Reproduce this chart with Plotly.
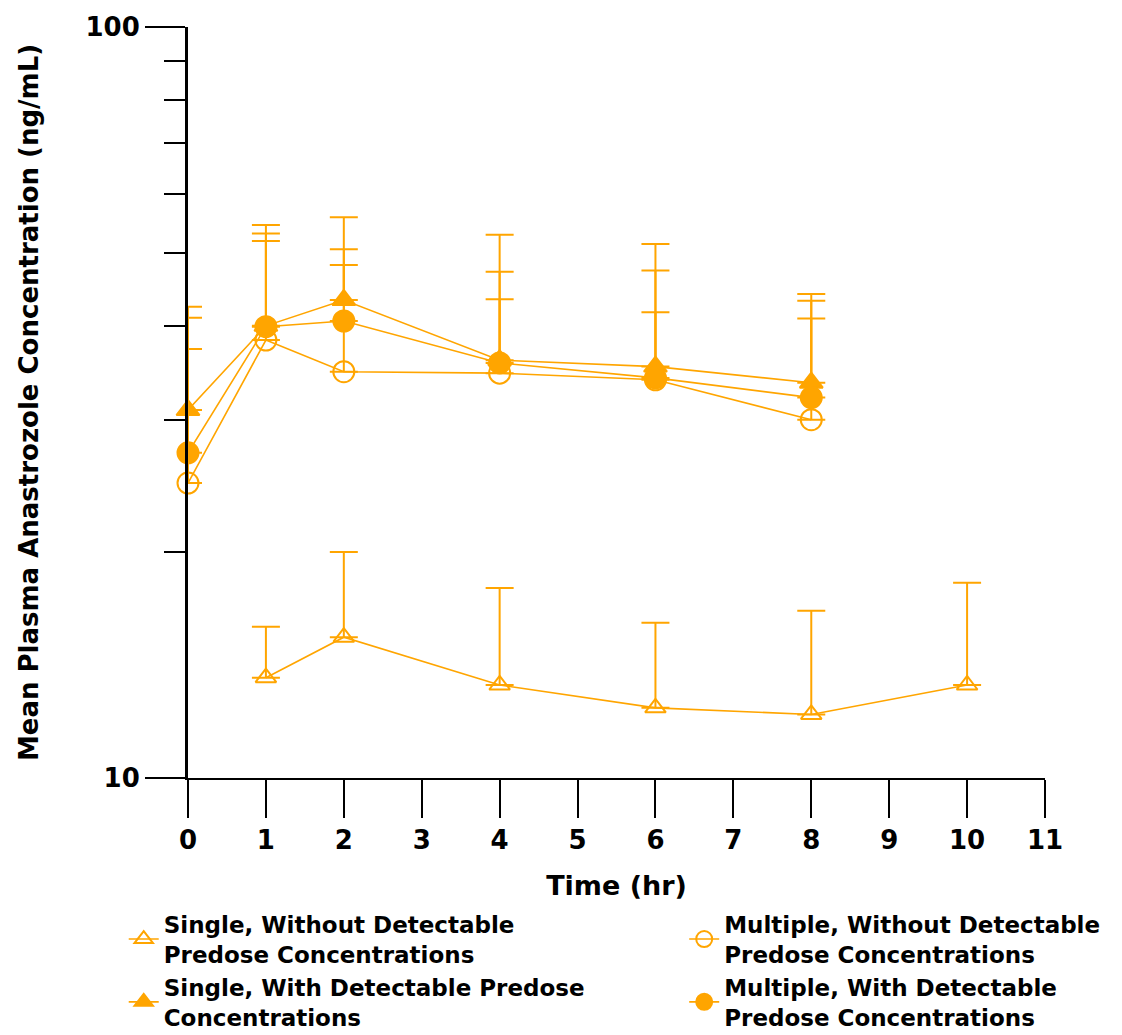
import plotly.graph_objects as go

# ---- data ----
time_single_wo = [1, 2, 4, 6, 8, 10]
conc_single_wo = [13.6, 15.4, 13.3, 12.4, 12.15, 13.3]
upper_single_wo = [15.9, 20.0, 17.9, 16.1, 16.7, 18.2]

time_multi_wo = [0, 1, 2, 4, 6, 8]
conc_multi_wo = [24.7, 38.3, 34.75, 34.6, 33.9, 30.0]
upper_multi_wo = [37.25, 51.9, 48.2, 43.4, 41.7, 40.9]

time_single_w = [0, 1, 2, 4, 6, 8]
conc_single_w = [30.9, 40.0, 43.3, 36.0, 35.3, 33.6]
upper_single_w = [42.4, 54.5, 55.8, 52.9, 51.4, 44.1]

time_multi_w = [0, 1, 2, 4, 6, 8]
conc_multi_w = [27.1, 39.9, 40.6, 35.7, 34.1, 32.1]
upper_multi_w = [41.0, 53.1, 50.6, 47.2, 47.4, 43.2]

names = [
    "Single, Without Detectable<br>Predose Concentrations",
    "Multiple, Without Detectable<br>Predose Concentrations",
    "Single, With Detectable Predose<br>Concentrations",
    "Multiple, With Detectable<br>Predose Concentrations",
]

x_ticks = list(range(0, 12))
y_major = [10, 100]
y_minor = [20, 30, 40, 50, 60, 70, 80, 90]

ORANGE = "#FFA500"
FONT = "DejaVu Sans"

series = [
    (time_single_wo, conc_single_wo, upper_single_wo, names[0], "triangle-up-open", 18, "legend"),
    (time_multi_wo, conc_multi_wo, upper_multi_wo, names[1], "circle-open", 21, "legend2"),
    (time_single_w, conc_single_w, upper_single_w, names[2], "triangle-up", 20, "legend"),
    (time_multi_w, conc_multi_w, upper_multi_w, names[3], "circle", 21, "legend2"),
]

fig = go.Figure()
for xs, ys, up, nm, sym, sz, lg in series:
    fig.add_trace(go.Scatter(
        x=xs, y=ys, name=nm, mode="lines+markers", legend=lg,
        line=dict(color=ORANGE, width=1.6),
        marker=dict(symbol=sym, size=sz, color=ORANGE,
                    line=dict(color=ORANGE, width=2)),
        error_y=dict(type="data", symmetric=False,
                     array=[u - v for u, v in zip(up, ys)],
                     arrayminus=[0] * len(ys),
                     color=ORANGE, thickness=2, width=14),
        cliponaxis=False,
    ))

legend_font = dict(family=FONT, size=23, color="black", weight="bold")
fig.update_layout(
    width=1122, height=1035,
    margin=dict(l=188, r=77, t=27, b=257, autoexpand=False),
    paper_bgcolor="white", plot_bgcolor="white",
    font=dict(family=FONT, color="black", size=23),
    showlegend=True,
    legend=dict(
        orientation="v", x=-0.075, xanchor="left", y=-0.166, yanchor="top",
        font=legend_font, tracegroupgap=0, bgcolor="rgba(0,0,0,0)",
    ),
    legend2=dict(
        orientation="v", x=0.579, xanchor="left", y=-0.166, yanchor="top",
        font=legend_font, tracegroupgap=0, bgcolor="rgba(0,0,0,0)",
    ),
    xaxis=dict(
        range=[0, 11], tickmode="array", tickvals=x_ticks,
        ticktext=[str(v) for v in x_ticks],
        showgrid=False, zeroline=False,
        showline=True, linecolor="black", linewidth=2,
        ticks="outside", ticklen=38, tickwidth=2, tickcolor="black",
        tickfont=dict(family=FONT, size=26, color="black", weight="bold"),
        title=dict(text="Time (hr)", standoff=22,
                   font=dict(family=FONT, size=27, color="black", weight="bold")),
    ),
    yaxis=dict(
        type="log", range=[1, 2], tickmode="array", tickvals=y_major,
        ticktext=[str(v) for v in y_major],
        showgrid=False, zeroline=False,
        showline=True, linecolor="black", linewidth=3,
        ticks="outside", ticklen=40, tickwidth=2, tickcolor="black",
        tickfont=dict(family=FONT, size=26, color="black", weight="bold"),
        minor=dict(tickmode="array", tickvals=y_minor, ticks="outside",
                   ticklen=21, tickwidth=2, tickcolor="black", showgrid=False),
        title=dict(text="Mean Plasma Anastrozole Concentration (ng/mL)", standoff=40,
                   font=dict(family=FONT, size=26, color="black", weight="bold")),
    ),
)

fig.write_html("out.html")
